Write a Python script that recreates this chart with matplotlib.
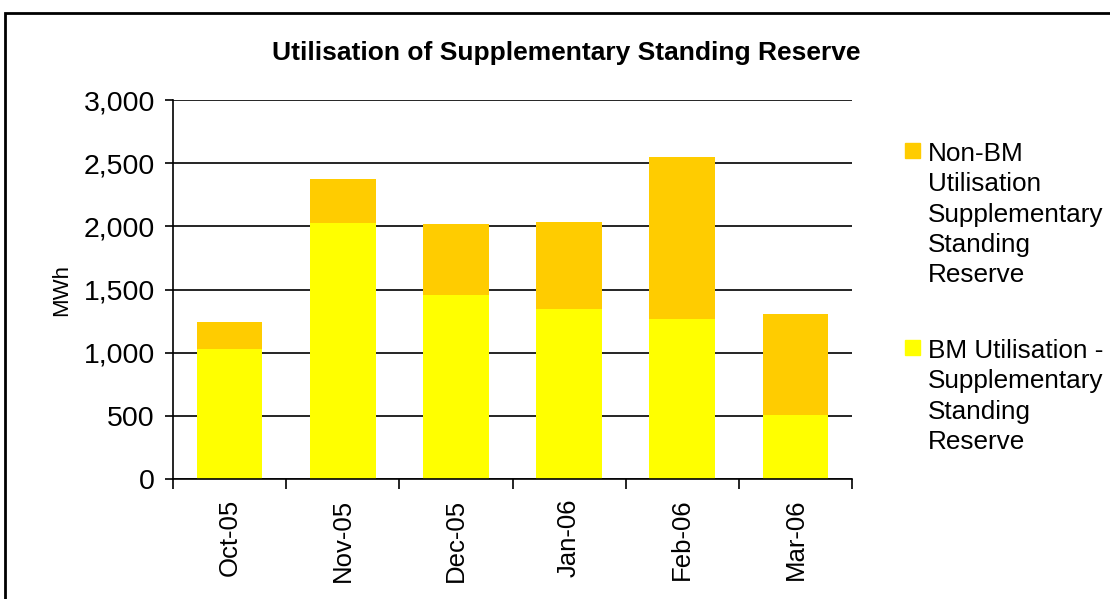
import matplotlib.pyplot as plt
from matplotlib.patches import Rectangle
import numpy as np

plt.rcParams['font.family'] = ['Liberation Sans', 'DejaVu Sans']

months = ['Oct-05', 'Nov-05', 'Dec-05', 'Jan-06', 'Feb-06', 'Mar-06']
bm_util = [1030, 2030, 1460, 1345, 1268, 505]
non_bm_util = [215, 342, 562, 693, 1280, 802]

bm_label = 'BM Utilisation -\nSupplementary\nStanding\nReserve'
non_bm_label = 'Non-BM\nUtilisation\nSupplementary\nStanding\nReserve'
bm_color = '#FFFF00'
non_bm_color = '#FFCC00'

W, H = 1110, 599
fig = plt.figure(figsize=(W / 100, H / 100), dpi=100)
ax = fig.add_axes([0.1559, 0.2003, 0.6117, 0.6327])

x = np.arange(len(months))
ax.bar(x, bm_util, width=0.58, color=bm_color, zorder=2)
ax.bar(x, non_bm_util, bottom=bm_util, width=0.58, color=non_bm_color, zorder=2)

ax.set_xlim(-0.5, len(months) - 0.5)
ax.set_ylim(0, 3000)
ax.set_yticks(range(0, 3001, 500))
ax.set_yticklabels([f'{v:,}' for v in range(0, 3001, 500)], fontsize=20.5)
ax.yaxis.grid(True, color='black', linewidth=1.2, zorder=1)
ax.set_axisbelow(True)

# category boundaries get the tick marks, labels sit at the centres
ax.set_xticks(np.arange(-0.5, len(months), 1.0))
ax.set_xticklabels([])
ax.set_xticks(x, minor=True)
ax.set_xticklabels(months, minor=True, rotation=90, fontsize=18.5)
ax.tick_params(axis='x', which='minor', length=0, pad=14)
ax.tick_params(axis='x', which='major', length=7, width=1.2, direction='out')
ax.tick_params(axis='y', length=6, width=1.2, direction='out', pad=7)

for s in ['top', 'right']:
    ax.spines[s].set_visible(False)
for s in ['left', 'bottom']:
    ax.spines[s].set_linewidth(1.2)

ax.set_ylabel('MWh', fontsize=16, labelpad=8)
fig.text(0.51, 1 - 60 / H, 'Utilisation of Supplementary Standing Reserve',
         fontsize=19, fontweight='bold', ha='center', va='baseline')

# legend, drawn by hand so the swatch lines up with the first text line
for top, color, label in [(143, non_bm_color, non_bm_label),
                          (340, bm_color, bm_label)]:
    fig.patches.append(Rectangle((905 / W, 1 - (top + 15) / H), 15 / W, 15 / H,
                                 transform=fig.transFigure, color=color))
    fig.text(928 / W, 1 - (top - 1) / H, label, fontsize=18.8,
             ha='left', va='top', linespacing=1.33)

fig.patches.append(Rectangle((5 / W, -0.1), 1.2, 1 - 13 / H + 0.1,
                             transform=fig.transFigure, fill=False,
                             edgecolor='black', linewidth=2))

fig.savefig('out.png', dpi=100)
